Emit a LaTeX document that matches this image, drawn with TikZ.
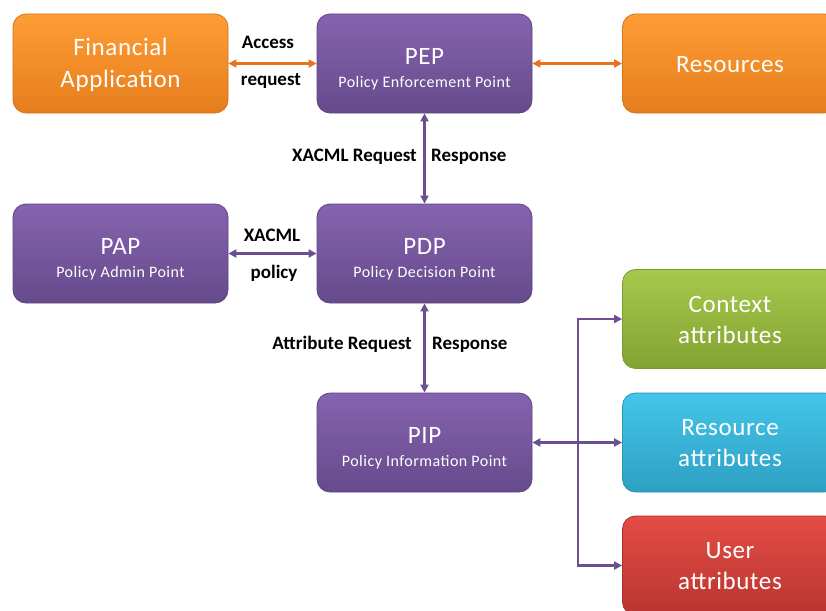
\documentclass[tikz,border=0pt]{standalone}
\usepackage{fontspec}
\setmainfont{Carlito}
\newfontfamily\boxfont{Carlito}[LetterSpace=2.5]
\newfontfamily\subboxfont{Carlito}[LetterSpace=3]
\usetikzlibrary{arrows.meta,calc}

% box fills (top / bottom / edge)
\definecolor{purpT}{HTML}{8663AF}
\definecolor{purpB}{HTML}{664A8B}
\definecolor{purpE}{HTML}{5E4482}
\definecolor{orT}{HTML}{FF9D35}
\definecolor{orB}{HTML}{E57D1C}
\definecolor{orE}{HTML}{D27420}
\definecolor{grT}{HTML}{A6C94C}
\definecolor{grB}{HTML}{82A332}
\definecolor{grE}{HTML}{789A2E}
\definecolor{blT}{HTML}{43C6EA}
\definecolor{blB}{HTML}{2E9FC2}
\definecolor{blE}{HTML}{2B93B3}
\definecolor{rdT}{HTML}{E44C45}
\definecolor{rdB}{HTML}{B93530}
\definecolor{rdE}{HTML}{A8302C}
% connector colours
\definecolor{orLine}{HTML}{E8731E}
\definecolor{puLine}{HTML}{6B4F8F}

\tikzset{
  box/.style={rounded corners=13pt, minimum width=215pt, minimum height=99pt,
              inner sep=0pt, line width=0.8pt},
  purplebox/.style={box, top color=purpT, bottom color=purpB, draw=purpE},
  orangebox/.style={box, top color=orT, bottom color=orB, draw=orE},
  greenbox/.style={box, top color=grT, bottom color=grB, draw=grE},
  bluebox/.style={box, top color=blT, bottom color=blB, draw=blE},
  redbox/.style={box, top color=rdT, bottom color=rdB, draw=rdE},
  title/.style={text=white, font=\boxfont\fontsize{25}{30}\selectfont, anchor=base, inner sep=0pt},
  sub/.style={text=white, font=\subboxfont\fontsize{16}{19}\selectfont, anchor=base, inner sep=0pt},
  lbl/.style={text=black, font=\bfseries\fontsize{19}{22}\selectfont, anchor=base, inner sep=0pt},
  conn/.style={line width=2.2pt, >={Triangle[length=8pt,width=8pt]}},
  oarrow/.style={conn, draw=orLine},
  parrow/.style={conn, draw=puLine},
}

\begin{document}
\begin{tikzpicture}[x=1pt, y=-1pt]
  \path[use as bounding box, fill=white] (0,0) rectangle (826,610);
  \clip (0,0) rectangle (826,610);

  % boxes
  \node[orangebox] (fin)   at (120.5, 63.5) {};
  \node[purplebox] (pep)   at (424.5, 63.5) {};
  \node[orangebox] (res)   at (730,   63.5) {};
  \node[purplebox] (pap)   at (120.5,253.5) {};
  \node[purplebox] (pdp)   at (424.5,253.5) {};
  \node[purplebox] (pip)   at (424.5,442.5) {};
  \node[greenbox]  (ctx)   at (730,  319)   {};
  \node[bluebox]   (rattr) at (730,  442.5) {};
  \node[redbox]    (uattr) at (730,  565.5) {};

  % box texts
  \node[title] (finA) at ($(fin.center)+(0,-8)$)  {Financial};
  \node[title] (finB) at ($(fin.center)+(0,23.5)$) {Application};
  \node[title] (pepT) at ($(pep.center)+(0,0.5)$) {PEP};
  \node[sub]   (pepS) at ($(pep.center)+(0,24)$)  {Policy Enforcement Point};
  \node[title] (resT) at ($(res.center)+(0,8.5)$) {Resources};
  \node[title] (papT) at ($(pap.center)+(0,0.5)$) {PAP};
  \node[sub]   (papS) at ($(pap.center)+(0,24)$)  {Policy Admin Point};
  \node[title] (pdpT) at ($(pdp.center)+(0,0.5)$) {PDP};
  \node[sub]   (pdpS) at ($(pdp.center)+(0,24)$)  {Policy Decision Point};
  \node[title] (pipT) at ($(pip.center)+(0,0.5)$) {PIP};
  \node[sub]   (pipS) at ($(pip.center)+(0,24)$)  {Policy Information Point};
  \node[title] (ctxA) at ($(ctx.center)+(0,-7)$)  {Context};
  \node[title] (ctxB) at ($(ctx.center)+(0,24)$)  {attributes};
  \node[title] (raA)  at ($(rattr.center)+(0,-7)$) {Resource};
  \node[title] (raB)  at ($(rattr.center)+(0,24)$) {attributes};
  \node[title] (uaA)  at ($(uattr.center)+(0,-7)$) {User};
  \node[title] (uaB)  at ($(uattr.center)+(0,24)$) {attributes};

  % connectors
  \draw[oarrow,<->] (fin.east) -- (pep.west);
  \draw[oarrow,<->] (pep.east) -- (res.west);
  \draw[parrow,<->] (pep.south) -- (pdp.north);
  \draw[parrow,<->] (pap.east) -- (pdp.west);
  \draw[parrow,<->] (pdp.south) -- (pip.north);

  \coordinate (bus) at (578,442.5);
  \draw[parrow,<-] (pip.east) -- (bus);
  \draw[parrow,->] (bus) |- (ctx.west);
  \draw[parrow,->] (bus) -- (rattr.west);
  \draw[parrow,->] (bus) |- (uattr.west);

  % connector labels
  \node[lbl] (l1) at (268,48.3)  {Access};
  \node[lbl] (l2) at (271,85)    {request};
  \node[lbl, anchor=base east] (l3) at (417,161.7) {XACML Request};
  \node[lbl, anchor=base west] (l4) at (431,161.7) {Response};
  \node[lbl] (l5) at (272,241.7) {XACML};
  \node[lbl] (l6) at (274,278)   {policy};
  \node[lbl, anchor=base east] (l7) at (412,349) {Attribute Request};
  \node[lbl, anchor=base west] (l8) at (432,349) {Response};
\end{tikzpicture}
\end{document}
